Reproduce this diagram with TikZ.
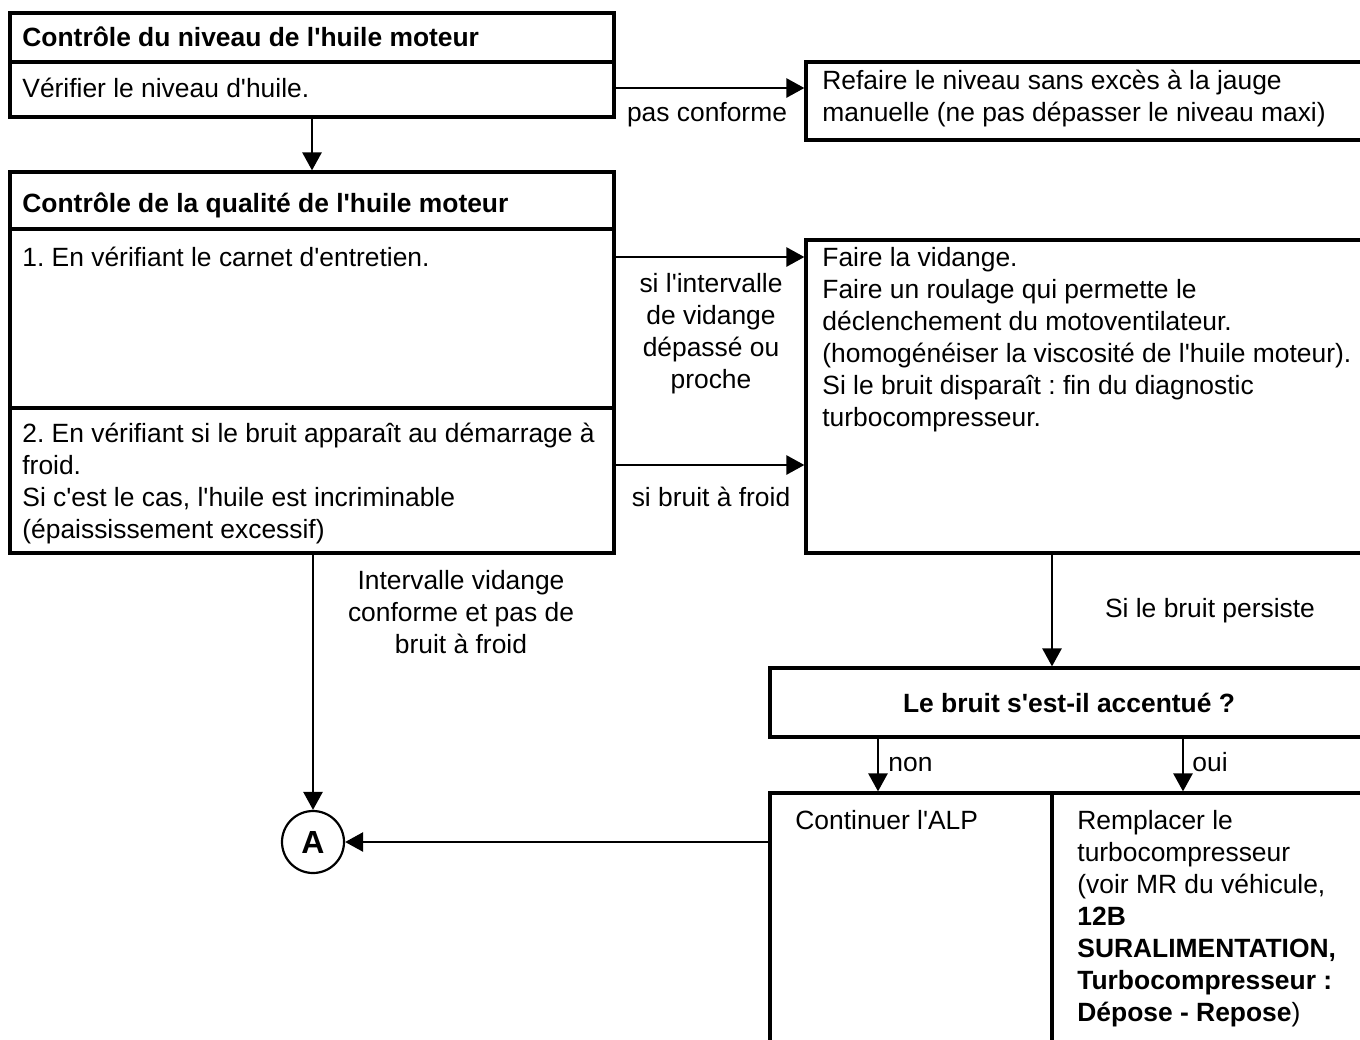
\documentclass[tikz,border=0pt]{standalone}
\usepackage{fontspec}
\setmainfont{Liberation Sans}[Ligatures=TeXOff]
\usetikzlibrary{arrows.meta,fit}
\frenchspacing

\begin{document}
\begin{tikzpicture}[x=0.5pt,y=-0.5pt,
      every node/.style={font=\fontsize{13.2pt}{16pt}\selectfont,inner sep=0pt},
      box/.style={draw,line width=1.6pt},
      arr/.style={line width=1.3pt,-{Triangle[length=9pt,width=9.5pt]}},
      txt/.style={anchor=base west},
      para/.style={anchor=north west,align=left},
      lbl/.style={align=center}]
      \path[use as bounding box] (0,0) rectangle (1360,1039);
      \clip (0,0) rectangle (1360,1039);
      % niveau
      \node[box,fit={(10,13) (614,62)}] (niveauT) {};
      \node[box,fit={(10,62) (614,117)}] (niveauB) {};
      \node[txt,font=\fontsize{13.2pt}{16pt}\selectfont\bfseries] (tniveau) at (22,46) {Contrôle du niveau de l'huile moteur};
      \node[txt] (verif) at (22,97) {Vérifier le niveau d'huile.};
      \node[box,fit={(806,62) (1380,140)}] (refaire) {};
      \node[para] (trefaire) at (822,70) {Refaire le niveau sans excès à la jauge\\manuelle (ne pas dépasser le niveau maxi)};
      \node (pasconf) at (707,115) {pas conforme};
      % qualite
      \node[box,fit={(10,172) (614,229)}] (qualT) {};
      \node[box,fit={(10,229) (614,408)}] (qual1) {};
      \node[box,fit={(10,408) (614,553)}] (qual2) {};
      \node[txt,font=\fontsize{13.2pt}{16pt}\selectfont\bfseries] (tqual) at (22,212) {Contrôle de la qualité de l'huile moteur};
      \node[txt] (carnet) at (22,266) {1. En vérifiant le carnet d'entretien.};
      \node[para] (demarrage) at (22,423) {2. En vérifiant si le bruit apparaît au démarrage à\\froid.\\Si c'est le cas, l'huile est incriminable\\(épaississement excessif)};
      \node[box,fit={(806,240) (1380,553)}] (vidange) {};
      \node[para] (tvidange) at (822,247) {Faire la vidange.\\Faire un roulage qui permette le\\déclenchement du motoventilateur.\\(homogénéiser la viscosité de l'huile moteur).\\Si le bruit disparaît : fin du diagnostic\\turbocompresseur.};
      \node[lbl] (interv) at (711,334) {si l'intervalle\\de vidange\\dépassé ou\\proche};
      \node (froid) at (711,497) {si bruit à froid};
      \node[lbl] (conforme) at (461,612) {Intervalle vidange\\conforme et pas de\\bruit à froid};
      % accentue
      \node[box,fit={(770,668) (1380,737)}] (accent) {};
      \node[font=\fontsize{13.2pt}{16pt}\selectfont\bfseries] (taccent) at (1069,703) {Le bruit s'est-il accentué ?};
      \node (persiste) at (1210,611) {Si le bruit persiste};
      \node[box,fit={(770,793) (1052,1060)}] (alp) {};
      \node[box,fit={(1052,793) (1380,1060)}] (remp) {};
      \node[txt] (talp) at (795,829) {Continuer l'ALP};
      \node[para] (tremp) at (1077,810) {Remplacer le\\turbocompresseur\\(voir MR du véhicule,\\\textbf{12B}\\\textbf{SURALIMENTATION,}\\\textbf{Turbocompresseur :}\\\textbf{Dépose - Repose})};
      \node[txt] (non) at (888,771) {non};
      \node[txt] (oui) at (1192,771) {oui};
      \node[circle,draw,line width=1.1pt,minimum size=31pt,font=\fontsize{16pt}{18pt}\selectfont\bfseries] (A) at (313,842) {A};
      \coordinate (c2) at (0,465);
      \coordinate (axe) at (1052,0);
      \coordinate (xnon) at (878,0);
      \coordinate (xoui) at (1183,0);
      % liaisons
      \draw[arr] (niveauB.east |- 0,88) -- (refaire.west |- 0,88);
      \draw[arr] (niveauB.south) -- (qualT.north);
      \draw[arr] (qual1.east |- 0,257) -- (vidange.west |- 0,257);
      \draw[arr] (qual2.east |- c2) -- (vidange.west |- c2);
      \draw[arr] (vidange.south -| axe) -- (accent.north -| axe);
      \draw[arr] (accent.south -| xnon) -- (alp.north -| xnon);
      \draw[arr] (accent.south -| xoui) -- (remp.north -| xoui);
      \draw[arr] (alp.west |- A.east) -- (A.east);
      \draw[arr] (qual2.south -| A.north) -- (A.north);
\end{tikzpicture}
\end{document}
